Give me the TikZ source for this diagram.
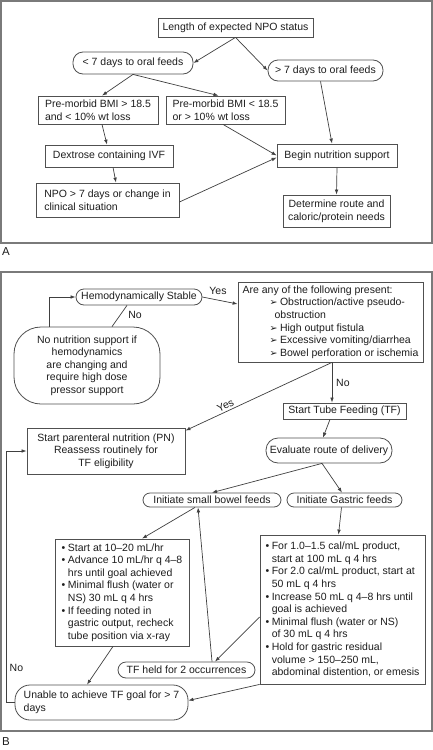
\documentclass[tikz,border=0pt]{standalone}
\usepackage{fontspec}
\setmainfont{Liberation Sans}
\newfontfamily\djv{DejaVu Sans}
\usetikzlibrary{arrows.meta}
\definecolor{bcol}{HTML}{505050}
\definecolor{tcol}{HTML}{1E1E1E}
\definecolor{lcol}{HTML}{404040}
\definecolor{fcol}{HTML}{7A7A7A}
\newcommand\fs{\fontsize{10.5}{12.6}\selectfont}
\newcommand\bl{\makebox[6.3pt][l]{•}}
\newcommand\cn{\hspace*{6.3pt}}
\newcommand\arrb{\hspace*{27pt}{\djv\fontsize{9.5}{9}\selectfont ➢}\hspace{2.5pt}}
\newcommand\arrc{\hspace*{32pt}}
\begin{document}
\begin{tikzpicture}[x=1pt,y=-1pt,
 bx/.style={draw=bcol, line width=0.8pt, text=tcol, font=\fs, inner sep=0pt, align=center},
 lf/.style={align=left},
 sz/.style 2 args={minimum width=#1pt, minimum height=#2pt},
 rc/.style={rounded corners=#1pt},
 arw/.style={draw=lcol, line width=0.7pt, -{Latex[length=5pt,width=3.6pt]}},
 ln/.style={draw=lcol, line width=0.7pt},
 lbl/.style={text=tcol, font=\fs, inner sep=0pt},
 frame/.style={draw=fcol, line width=1.2pt}]
\useasboundingbox[fill=white] (0,0) rectangle (433,750);
% ---------------- Panel A ----------------
\draw[frame] (1,1) rectangle (432,243);
\node[lbl, anchor=west, font=\fontsize{11.5}{13}\selectfont] (labA) at (2,252) {A};
\node[bx, sz={155}{19}] (len) at (235.5,27.5) {Length of expected NPO status};
\node[bx, sz={120}{22}, rc=10] (lt7) at (133,63) {< 7 days to oral feeds};
\node[bx, sz={115}{21}, rc=10] (gt7) at (325.5,70.5) {> 7 days to oral feeds};
\node[bx, lf, sz={120}{28}] (pm1) at (98,110) {Pre-morbid BMI > 18.5\\and < 10\% wt loss};
\node[bx, lf, sz={119}{28}] (pm2) at (225.5,110) {Pre-morbid BMI < 18.5\\or > 10\% wt loss};
\node[bx, sz={128}{22}] (dex) at (109,156) {Dextrose containing IVF};
\node[bx, lf, sz={143}{34}] (npo) at (107.5,200) {NPO > 7 days or change in\\clinical situation};
\node[bx, sz={120}{23}] (beg) at (337,155.5) {Begin nutrition support};
\node[bx, sz={107}{32}] (det) at (336.5,211) {Determine route and\\caloric/protein needs};
\draw[arw] (len.south) -- (lt7.east);
\draw[arw] (len.south) -- (gt7.west);
\draw[arw] (lt7.south) -- ([xshift=4pt]pm1.north);
\draw[arw] (lt7.south) -- ([xshift=-7pt]pm2.north);
\draw[arw] ([xshift=-5pt]gt7.south) -- ([xshift=-5pt]beg.north);
\draw[arw] ([xshift=4pt]pm1.south) -- ([xshift=-2pt]dex.north);
\draw[arw] ([xshift=-2.5pt]pm2.south) -- (beg.west);
\draw[arw] ([xshift=4pt]dex.south) -- ([xshift=8.5pt]npo.north);
\draw[arw] ([yshift=-2pt]npo.east) -- ([yshift=-2pt]beg.west);
\draw[arw] (beg.south) -- (det.north);
% ---------------- Panel B ----------------
\draw[frame] (1,272) rectangle (432,731);
\node[lbl, anchor=west, font=\fontsize{11.5}{13}\selectfont] (labB) at (2,742) {B};
\node[bx, sz={126}{16}, rc=8] (hemo) at (139,297) {Hemodynamically Stable};
\node[bx, lf, sz={185}{80}] (are) at (330.5,322) {Are any of the following present:\\\arrb Obstruction/active pseudo-\\\arrc obstruction\\\arrb High output fistula\\\arrb Excessive vomiting/diarrhea\\\arrb Bowel perforation or ischemia};
\node[bx, sz={146}{77}, rc=27] (nos) at (87,365.5) {No nutrition support if\\hemodynamics\\are changing and\\require high dose\\pressor support};
\node[bx, sz={123}{16}] (tf) at (344.5,411) {Start Tube Feeding (TF)};
\node[bx, sz={158}{46}] (pn) at (106,451) {Start parenteral nutrition (PN)\\Reassess routinely for\\TF eligibility};
\node[bx, sz={126}{25}, rc=12] (eval) at (329,450.5) {Evaluate route of delivery};
\node[bx, sz={138}{14}, rc=7] (sb) at (212,500) {Initiate small bowel feeds};
\node[bx, sz={115}{14}, rc=7] (gas) at (344.5,500) {Initiate Gastric feeds};
\node[bx, lf, sz={134}{107}] (lb) at (122,592.5) {\bl Start at 10–20 mL/hr\\\bl Advance 10 mL/hr q 4–8\\\cn hrs until goal achieved\\\bl Minimal flush (water or\\\cn NS) 30 mL q 4 hrs\\\bl If feeding noted in\\\cn gastric output, recheck\\\cn tube position via x-ray};
\node[bx, lf, sz={165}{149}] (rb) at (342.5,609.5) {\bl For 1.0–1.5 cal/mL product,\\\cn start at 100 mL q 4 hrs\\\bl For 2.0 cal/mL product, start at\\\cn 50 mL q 4 hrs\\\bl Increase 50 mL q 4–8 hrs until\\\cn goal is achieved\\\bl Minimal flush (water or NS)\\\cn of 30 mL q 4 hrs\\\bl Hold for gastric residual\\\cn volume > 150–250 mL,\\\cn abdominal distention, or emesis};
\node[bx, sz={137}{16}, rc=8] (held) at (186.5,670) {TF held for 2 occurrences};
\node[bx, lf, sz={173}{35}, rc=15] (un) at (101.5,702.5) {Unable to achieve TF goal for > 7\\days};
\draw[arw] ([xshift=-38pt]nos.north) |- (hemo.west);
\draw[ln] ([xshift=-12pt]hemo.south) -- ([xshift=25pt]nos.north);
\node[lbl] (no1) at (135,315) {No};
\draw[arw] (hemo.east) -- ([yshift=18pt]are.west);
\node[lbl] (yes1) at (218,291) {Yes};
\draw[arw] ([xshift=1.5pt]are.south) -- ([xshift=-12.5pt]tf.north);
\node[lbl, anchor=west] (no2) at (336,383) {No};
\draw[arw] ([xshift=1.5pt]are.south) -- node[lbl, sloped, above=2pt, pos=0.71] (yes2) {Yes} ([yshift=-3pt]pn.north east);
\draw[arw] ([xshift=-14.5pt]tf.south) -- ([xshift=-6pt]eval.north);
\draw[arw] ([xshift=-7pt]eval.south) -- (sb.north);
\draw[arw] ([xshift=-7pt]eval.south) -- ([xshift=-2.5pt]gas.north);
\draw[arw] ([xshift=-17pt]sb.south) -- ([xshift=20pt]lb.north);
\draw[arw] ([xshift=-3pt]gas.south) -- ([xshift=-4pt]rb.north);
\draw[arw] ([xshift=25.5pt]held.north) -- ([xshift=-14pt]sb.south);
\draw[arw] ([yshift=-7.5pt]rb.west) -- ([xshift=28.5pt]held.north);
\draw[arw] ([xshift=-9pt]lb.south) -- ([xshift=-14.5pt]un.north);
\draw[arw] (rb.south west) -- ([yshift=2pt]un.east);
\draw[arw] (un.west) -- ++(-8,0) |- (pn.west);
\node[lbl, anchor=west] (no3) at (9.5,668) {No};
\end{tikzpicture}
\end{document}
